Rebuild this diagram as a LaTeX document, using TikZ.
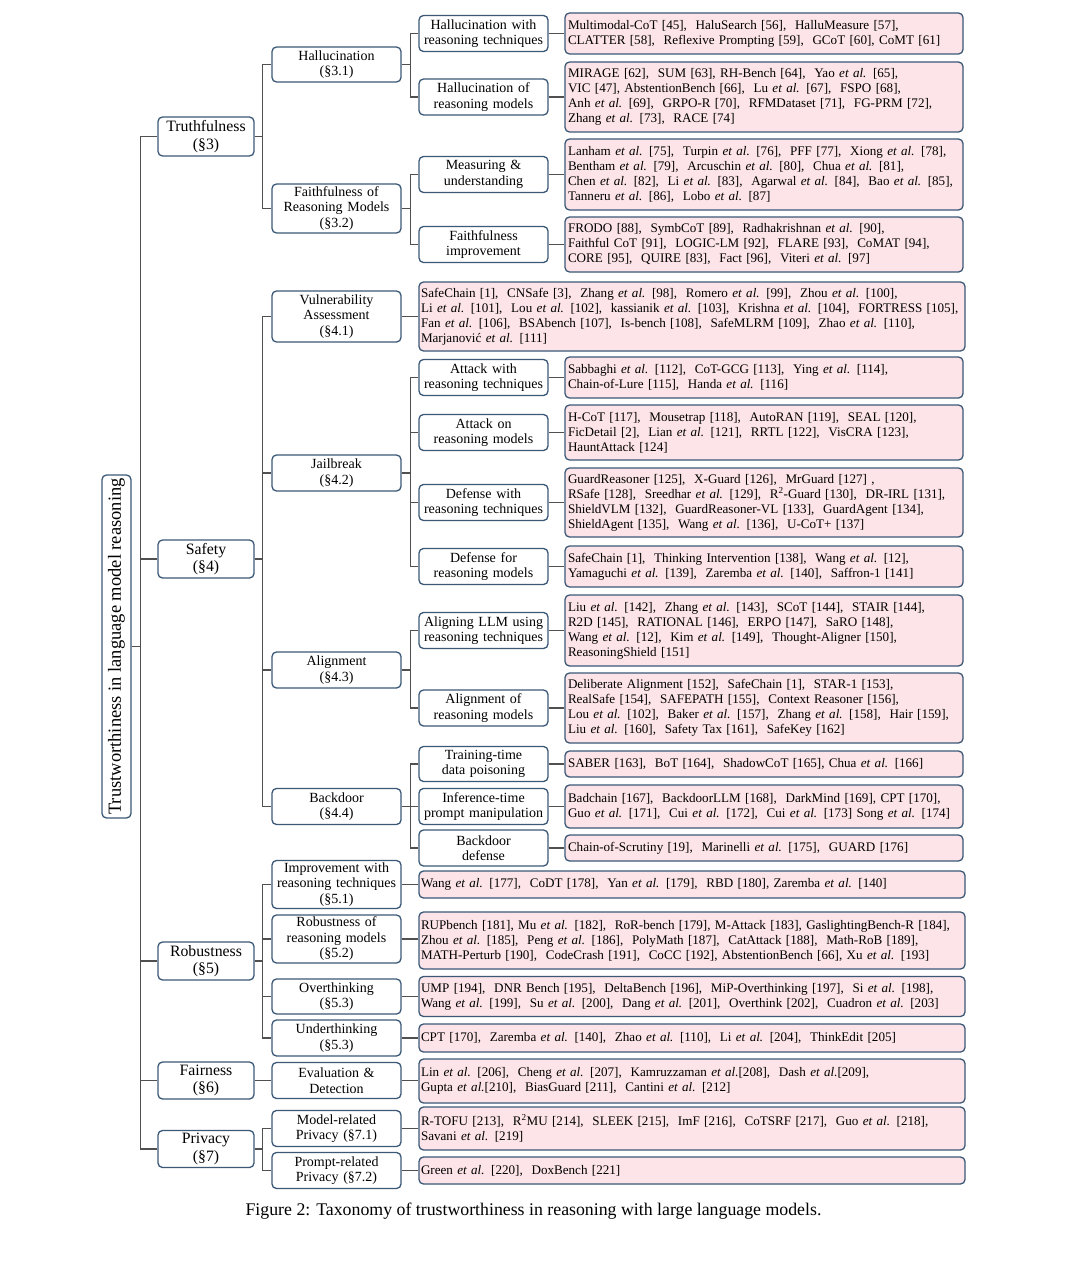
\documentclass[tikz,border=0pt]{standalone}
\usepackage{fontspec}
\setmainfont{Liberation Serif}
\usepackage{graphicx}
\definecolor{bcol}{HTML}{3B5877}
\definecolor{leafcol}{HTML}{FDE4E8}
\definecolor{lcol}{HTML}{505050}
\newcommand{\ea}{\textit{et al.}}
\tikzset{
 base/.style={draw=bcol, line width=1.3pt, rounded corners=4.5pt, align=center, inner sep=2pt},
 lone/.style={base, fill=white, minimum width=96pt, text width=92pt, font=\fontsize{15.8}{17.5}\selectfont},
 ltwo/.style={base, fill=white, minimum width=129pt, text width=125pt, font=\fontsize{14}{15.5}\selectfont},
 leafa/.style={base, fill=leafcol, align=left, minimum width=398pt, text width=392pt, inner xsep=3pt, font=\fontsize{13.1}{15}\selectfont},
 leafb/.style={leafa, minimum width=546pt, text width=542pt, inner xsep=2pt},
 conn/.style={draw=lcol, line width=1.3pt},
}
\begin{document}
\begin{tikzpicture}[x=1pt,y=1pt]
\fill[white] (0,0) rectangle (1080,-1271);
\useasboundingbox (0,0) rectangle (1080,-1271);
% root
\node[base, fill=white, minimum width=29pt, minimum height=343pt, inner sep=0pt] (root) at (116.5,-646.5)
  {\rotatebox{90}{\fontsize{18.5}{20}\selectfont Trustworthiness in language model reasoning}};
% level 1
\node[lone, minimum height=39pt] (truth) at (206,-136.5) {Truthfulness\\(§3)};
\node[lone, minimum height=38pt] (safe) at (206,-559) {Safety\\(§4)};
\node[lone, minimum height=38pt] (robu) at (206,-961) {Robustness\\(§5)};
\node[lone, minimum height=37pt] (fair) at (206,-1080.5) {Fairness\\(§6)};
\node[lone, minimum height=37pt] (priv) at (206,-1149) {Privacy\\(§7)};
% level 2
\node[ltwo, minimum height=35pt] (hal) at (336.5,-64.5) {Hallucination\\(§3.1)};
\node[ltwo, minimum height=49pt] (faith) at (336.5,-208.5) {Faithfulness of\\Reasoning Models\\(§3.2)};
\node[ltwo, minimum height=51pt] (vuln) at (336.5,-316.5) {Vulnerability\\Assessment\\(§4.1)};
\node[ltwo, minimum height=36pt] (jail) at (336.5,-473) {Jailbreak\\(§4.2)};
\node[ltwo, minimum height=36pt] (aligm) at (336.5,-670) {Alignment\\(§4.3)};
\node[ltwo, minimum height=36pt] (backd) at (336.5,-806.5) {Backdoor\\(§4.4)};
\node[ltwo, minimum height=48pt] (impr) at (336.5,-884.5) {Improvement with\\reasoning techniques\\(§5.1)};
\node[ltwo, minimum height=48pt] (robm) at (336.5,-939) {Robustness of\\reasoning models\\(§5.2)};
\node[ltwo, minimum height=35pt] (over) at (336.5,-996.5) {Overthinking\\(§5.3)};
\node[ltwo, minimum height=36pt] (under) at (336.5,-1038) {Underthinking\\(§5.3)};
\node[ltwo, minimum height=36pt] (evald) at (336.5,-1080.5) {Evaluation \&\\Detection};
\node[ltwo, minimum height=36pt] (mpriv) at (336.5,-1128.5) {Model-related\\Privacy (§7.1)};
\node[ltwo, minimum height=36pt] (ppriv) at (336.5,-1170.5) {Prompt-related\\Privacy (§7.2)};
% level 3
\node[ltwo, minimum height=36pt] (hwt) at (483.5,-33.5) {Hallucination with\\reasoning techniques};
\node[ltwo, minimum height=36pt] (hom) at (483.5,-97) {Hallucination of\\reasoning models};
\node[ltwo, minimum height=36pt] (meas) at (483.5,-174.5) {Measuring \&\\understanding};
\node[ltwo, minimum height=36pt] (fimp) at (483.5,-244.5) {Faithfulness\\improvement};
\node[ltwo, minimum height=36pt] (atw) at (483.5,-377.5) {Attack with\\reasoning techniques};
\node[ltwo, minimum height=36pt] (aton) at (483.5,-432.5) {Attack on\\reasoning models};
\node[ltwo, minimum height=36pt] (dfw) at (483.5,-502.5) {Defense with\\reasoning techniques};
\node[ltwo, minimum height=36pt] (dff) at (483.5,-566.5) {Defense for\\reasoning models};
\node[ltwo, minimum height=36pt] (aln) at (483.5,-630.5) {Aligning LLM using\\reasoning techniques};
\node[ltwo, minimum height=36pt] (alo) at (483.5,-708) {Alignment of\\reasoning models};
\node[ltwo, minimum height=35pt] (tt) at (483.5,-764) {Training-time\\data poisoning};
\node[ltwo, minimum height=36pt] (it) at (483.5,-806.5) {Inference-time\\prompt manipulation};
\node[ltwo, minimum height=36pt] (bdd) at (483.5,-848) {Backdoor\\defense};
% leaves
\node[leafa, minimum height=41pt] (l1) at (764,-33.5) {Multimodal-CoT [45],~ HaluSearch [56],~ HalluMeasure [57],\\CLATTER [58],~ Reflexive Prompting [59],~ GCoT [60], CoMT [61]};
\node[leafa, minimum height=70pt] (l2) at (764,-97) {MIRAGE [62],~ SUM [63], RH-Bench [64],~ Yao \ea{} [65],\\VIC [47], AbstentionBench [66],~ Lu \ea{} [67],~ FSPO [68],\\Anh \ea{} [69],~ GRPO-R [70],~ RFMDataset [71],~ FG-PRM [72],\\Zhang \ea{} [73],~ RACE [74]};
\node[leafa, minimum height=71pt] (l3) at (764,-174.5) {Lanham \ea{} [75],~ Turpin \ea{} [76],~ PFF [77],~ Xiong \ea{} [78],\\Bentham \ea{} [79],~ Arcuschin \ea{} [80],~ Chua \ea{} [81],\\Chen \ea{} [82],~ Li \ea{} [83],~ Agarwal \ea{} [84],~ Bao \ea{} [85],\\Tanneru \ea{} [86],~ Lobo \ea{} [87]};
\node[leafa, minimum height=55pt] (l4) at (764,-244.5) {FRODO [88],~ SymbCoT [89],~ Radhakrishnan \ea{} [90],\\Faithful CoT [91],~ LOGIC-LM [92],~ FLARE [93],~ CoMAT [94],\\CORE [95],~ QUIRE [83],~ Fact [96],~ Viteri \ea{} [97]};
\node[leafb, minimum height=69pt] (l5) at (692,-316.5) {SafeChain [1],~ CNSafe [3],~ Zhang \ea{} [98],~ Romero \ea{} [99],~ Zhou \ea{} [100],\\\mbox{Li \ea{} [101],~ Lou \ea{} [102],~ kassianik \ea{} [103],~ Krishna \ea{} [104],~ FORTRESS [105],}\\Fan \ea{} [106],~ BSAbench [107],~ Is-bench [108],~ SafeMLRM [109],~ Zhao \ea{} [110],\\Marjanović \ea{} [111]};
\node[leafa, minimum height=41pt] (l6) at (764,-377.5) {Sabbaghi \ea{} [112],~ CoT-GCG [113],~ Ying \ea{} [114],\\Chain-of-Lure [115],~ Handa \ea{} [116]};
\node[leafa, minimum height=55pt] (l7) at (764,-432.5) {H-CoT [117],~ Mousetrap [118],~ AutoRAN [119],~ SEAL [120],\\FicDetail [2],~ Lian \ea{} [121],~ RRTL [122],~ VisCRA [123],\\HauntAttack [124]};
\node[leafa, minimum height=69pt] (l8) at (764,-502.5) {GuardReasoner [125],~ X-Guard [126],~ MrGuard [127] ,\\RSafe [128],~ Sreedhar \ea{} [129],~ R\textsuperscript{2}-Guard [130],~ DR-IRL [131],\\ShieldVLM [132],~ GuardReasoner-VL [133],~ GuardAgent [134],\\ShieldAgent [135],~ Wang \ea{} [136],~ U-CoT+ [137]};
\node[leafa, minimum height=41pt] (l9) at (764,-566.5) {SafeChain [1],~ Thinking Intervention [138],~ Wang \ea{} [12],\\Yamaguchi \ea{} [139],~ Zaremba \ea{} [140],~ Saffron-1 [141]};
\node[leafa, minimum height=71pt] (l10) at (764,-630.5) {Liu \ea{} [142],~ Zhang \ea{} [143],~ SCoT [144],~ STAIR [144],\\R2D [145],~ RATIONAL [146],~ ERPO [147],~ SaRO [148],\\Wang \ea{} [12],~ Kim \ea{} [149],~ Thought-Aligner [150],\\ReasoningShield [151]};
\node[leafa, minimum height=70pt] (l11) at (764,-708) {Deliberate Alignment [152],~ SafeChain [1],~ STAR-1 [153],\\RealSafe [154],~ SAFEPATH [155],~ Context Reasoner [156],\\Lou \ea{} [102],~ Baker \ea{} [157],~ Zhang \ea{} [158],~ Hair [159],\\Liu \ea{} [160],~ Safety Tax [161],~ SafeKey [162]};
\node[leafa, minimum height=26pt] (l12) at (764,-764) {SABER [163],~ BoT [164],~ ShadowCoT [165], Chua \ea{} [166]};
\node[leafa, minimum height=43pt] (l13) at (764,-806.5) {Badchain [167],~ BackdoorLLM [168],~ DarkMind [169], CPT [170],\\Guo \ea{} [171],~ Cui \ea{} [172],~ Cui \ea{} [173] Song \ea{} [174]};
\node[leafa, minimum height=26pt] (l14) at (764,-848) {Chain-of-Scrutiny [19],~ Marinelli \ea{} [175],~ GUARD [176]};
\node[leafb, minimum height=27pt] (l15) at (692,-884.5) {Wang \ea{} [177],~ CoDT [178],~ Yan \ea{} [179],~ RBD [180], Zaremba \ea{} [140]};
\node[leafb, minimum height=57pt] (l16) at (692,-940.5) {\mbox{RUPbench [181], Mu \ea{} [182],~ RoR-bench [179], M-Attack [183], GaslightingBench-R [184],}\\Zhou \ea{} [185],~ Peng \ea{} [186],~ PolyMath [187],~ CatAttack [188],~ Math-RoB [189],\\MATH-Perturb [190],~ CodeCrash [191],~ CoCC [192], AbstentionBench [66], Xu \ea{} [193]};
\node[leafb, minimum height=40pt] (l17) at (692,-996.5) {UMP [194],~ DNR Bench [195],~ DeltaBench [196],~ MiP-Overthinking [197],~ Si \ea{} [198],\\Wang \ea{} [199],~ Su \ea{} [200],~ Dang \ea{} [201],~ Overthink [202],~ Cuadron \ea{} [203]};
\node[leafb, minimum height=28pt] (l18) at (692,-1038) {CPT [170],~ Zaremba \ea{} [140],~ Zhao \ea{} [110],~ Li \ea{} [204],~ ThinkEdit [205]};
\node[leafb, minimum height=44pt] (l19) at (692,-1081) {Lin \ea{} [206],~ Cheng \ea{} [207],~ Kamruzzaman \ea{}[208],~ Dash \ea{}[209],\\Gupta \ea{}[210],~ BiasGuard [211],~ Cantini \ea{} [212]};
\node[leafb, minimum height=43pt] (l20) at (692,-1128.5) {R-TOFU [213],~ R\textsuperscript{2}MU [214],~ SLEEK [215],~ ImF [216],~ CoTSRF [217],~ Guo \ea{} [218],\\Savani \ea{} [219]};
\node[leafb, minimum height=27pt] (l21) at (692,-1170.5) {Green \ea{} [220],~ DoxBench [221]};
% connectors
\foreach \c in {truth,safe,robu,fair,priv} \draw[conn] (root.east) -- ++(9,0) |- (\c.west);
\foreach \p/\c in {truth/hal,truth/faith,safe/vuln,safe/jail,safe/aligm,safe/backd,robu/impr,robu/robm,robu/over,robu/under,fair/evald,priv/mpriv,priv/ppriv}
  \draw[conn] (\p.east) -- ++(8,0) |- (\c.west);
\foreach \p/\c in {hal/hwt,hal/hom,faith/meas,faith/fimp,jail/atw,jail/aton,jail/dfw,jail/dff,aligm/aln,aligm/alo,backd/tt,backd/it,backd/bdd}
  \draw[conn] (\p.east) -- ++(9,0) |- (\c.west);
\foreach \a/\b in {hwt/l1,hom/l2,meas/l3,fimp/l4,atw/l6,aton/l7,dfw/l8,dff/l9,aln/l10,alo/l11,tt/l12,it/l13,bdd/l14,vuln/l5,impr/l15,robm/l16,over/l17,under/l18,evald/l19,mpriv/l20,ppriv/l21}
  \draw[conn] (\a.east) -- (\a.east -| \b.west);
% caption
\node[font=\fontsize{17.8}{20}\selectfont] (cap) at (533.5,-1211) {Figure 2: Taxonomy of trustworthiness in reasoning with large language models.};
\end{tikzpicture}
\end{document}
